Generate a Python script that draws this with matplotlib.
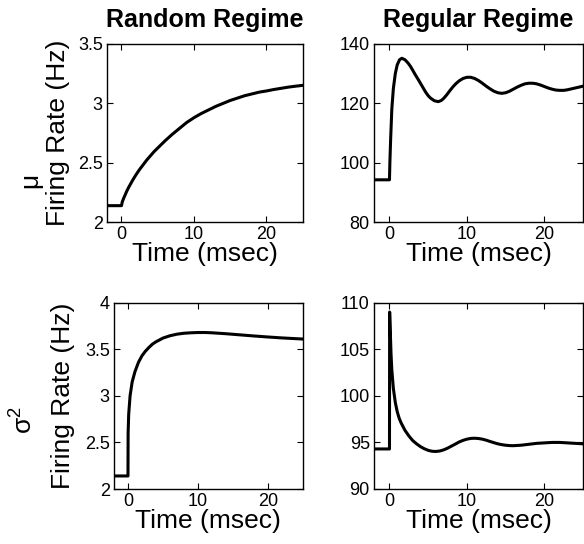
import numpy as np
import matplotlib
matplotlib.use("Agg")
import matplotlib.pyplot as plt

plt.rcParams["font.family"] = ["Liberation Sans", "DejaVu Sans"]
plt.rcParams["mathtext.fontset"] = "custom"
plt.rcParams["mathtext.rm"] = "Liberation Sans"
plt.rcParams["mathtext.it"] = "Liberation Sans"

# --- data (time in msec, rate in Hz) ---
rand_mu_t = [-2, 0, 0.1, 0.25, 0.5, 0.75, 1, 1.5, 2, 2.5, 3, 3.5, 4, 4.5, 5,
             5.5, 6, 7, 8, 9, 10, 11, 12, 13, 14, 15, 16, 17, 18, 19, 20, 21,
             22, 23, 24, 25]
rand_mu_r = [2.14, 2.14, 2.17, 2.195, 2.23, 2.265, 2.295, 2.35, 2.40, 2.445,
             2.485, 2.525, 2.56, 2.595, 2.625, 2.655, 2.685, 2.74, 2.79, 2.84,
             2.88, 2.915, 2.945, 2.975, 3.00, 3.025, 3.045, 3.065, 3.08, 3.095,
             3.105, 3.117, 3.127, 3.137, 3.145, 3.152]

reg_mu_t = [-2, 0, 0.05, 0.15, 0.3, 0.5, 0.75, 1.0, 1.3, 1.6, 2.0, 2.4, 2.7,
            3.0, 3.3, 3.7, 4, 4.4, 4.7, 5.0, 5.3, 5.8, 6.3, 6.7, 7, 7.4, 7.8,
            8.2, 8.6, 9.0, 9.5, 10.0, 10.5, 11, 11.5, 12, 12.5, 13, 13.5, 14,
            14.5, 15, 15.5, 16, 16.5, 17, 17.5, 18, 18.5, 19, 19.5, 20, 20.5,
            21, 21.5, 22, 22.5, 23, 23.5, 24, 24.5, 25]
reg_mu_r = [94.3, 94.3, 100, 108, 118, 125, 130, 133, 134.7, 135.2, 134.7,
            133.6, 132.5, 131.2, 129.8, 128.1, 126.8, 125.0, 123.7, 122.6, 121.8,
            120.9, 120.6, 121.0, 121.7, 122.9, 124.3, 125.6, 126.7, 127.6, 128.4,
            128.8, 128.8, 128.4, 127.7, 126.8, 125.8, 124.9, 124.1, 123.6, 123.4,
            123.6, 124.1, 124.8, 125.5, 126.1, 126.6, 126.8, 126.8, 126.6, 126.2,
            125.7, 125.2, 124.8, 124.5, 124.4, 124.4, 124.6, 124.9, 125.2, 125.5,
            125.8]

rand_var_t = [-2, 0, 0.02, 0.1, 0.3, 0.6, 1, 1.5, 2, 2.5, 3, 3.5, 4, 5, 6, 7, 8,
              9, 10, 11, 12, 14, 16, 18, 20, 22, 25]
rand_var_r = [2.14, 2.14, 2.6, 2.8, 3.0, 3.15, 3.26, 3.36, 3.43, 3.48, 3.52,
              3.555, 3.58, 3.62, 3.645, 3.662, 3.672, 3.677, 3.68, 3.68, 3.677,
              3.667, 3.655, 3.643, 3.632, 3.622, 3.61]

reg_var_t = [-2, 0, 0.02, 0.1, 0.2, 0.3, 0.5, 0.75, 1, 1.25, 1.5, 2, 2.5, 3,
             3.5, 4, 4.5, 5, 5.5, 6, 6.5, 7, 7.5, 8, 8.5, 9, 9.5, 10, 10.5, 11,
             11.5, 12, 12.5, 13, 13.5, 14, 14.5, 15, 15.5, 16, 17, 18, 19, 20,
             21, 22, 23, 24, 25]
reg_var_r = [94.3, 94.3, 109.0, 107, 104.5, 102.8, 100.8, 99.3, 98.3, 97.6,
             97.1, 96.3, 95.7, 95.2, 94.85, 94.55, 94.32, 94.15, 94.05, 94.03,
             94.08, 94.2, 94.38, 94.6, 94.82, 95.05, 95.22, 95.35, 95.43, 95.45,
             95.42, 95.35, 95.24, 95.1, 94.97, 94.85, 94.76, 94.7, 94.66, 94.65,
             94.7, 94.8, 94.9, 94.95, 95.0, 95.0, 94.95, 94.9, 94.85]

titles = ["Random Regime", "Regular Regime"]
row_syms = ["\u03bc", "\u03c3$^2$"]

W, H = 584, 544
fig = plt.figure(figsize=(W / 100, H / 100), dpi=100)


def px_axes(x0, y0, x1, y1):
    return fig.add_axes([x0 / W, 1 - y1 / H, (x1 - x0) / W, (y1 - y0) / H])


axes = [
    px_axes(107, 44, 302.7, 222.3),
    px_axes(374, 44, 583, 222.3),
    px_axes(114, 302.7, 302.7, 489),
    px_axes(374, 302.7, 583, 489),
]
series = [(rand_mu_t, rand_mu_r), (reg_mu_t, reg_mu_r),
          (rand_var_t, rand_var_r), (reg_var_t, reg_var_r)]
ylims = [(2, 3.5), (80, 140), (2, 4), (90, 110)]
yticks = [[2, 2.5, 3, 3.5], [80, 100, 120, 140],
          [2, 2.5, 3, 3.5, 4], [90, 95, 100, 105, 110]]

for i, (ax, (t, r)) in enumerate(zip(axes, series)):
    ax.plot(t, r, color="black", lw=2.2, solid_joinstyle="round")
    ax.set_xlim(-2, 25)
    ax.set_ylim(*ylims[i])
    ax.set_xticks([0, 10, 20])
    ax.set_yticks(yticks[i])
    ax.set_yticklabels([f"{v:g}" for v in yticks[i]])
    ax.tick_params(direction="in", length=4, width=0.8, labelsize=13,
                   top=True, right=True, pad=3)
    for sp in ax.spines.values():
        sp.set_linewidth(1.0)
    ax.set_xlabel("Time (msec)", fontsize=19, labelpad=-1)
    if i < 2:
        ax.set_title(titles[i], fontsize=18, fontweight="bold", pad=12)
    if i % 2 == 0:
        ax.set_ylabel("Firing Rate (Hz)", fontsize=19)

axes[0].yaxis.set_label_coords((70 - 107) / (302.7 - 107), 0.5)
axes[2].yaxis.set_label_coords((75 - 114) / (302.7 - 114), 0.5)
fig.text(30 / W, 1 - 180 / H, row_syms[0], fontsize=19, rotation=90,
         ha="center", va="center")
fig.text(24 / W, 1 - 420 / H, row_syms[1], fontsize=19, rotation=90,
         ha="center", va="center")

fig.savefig("out.png", dpi=100)
